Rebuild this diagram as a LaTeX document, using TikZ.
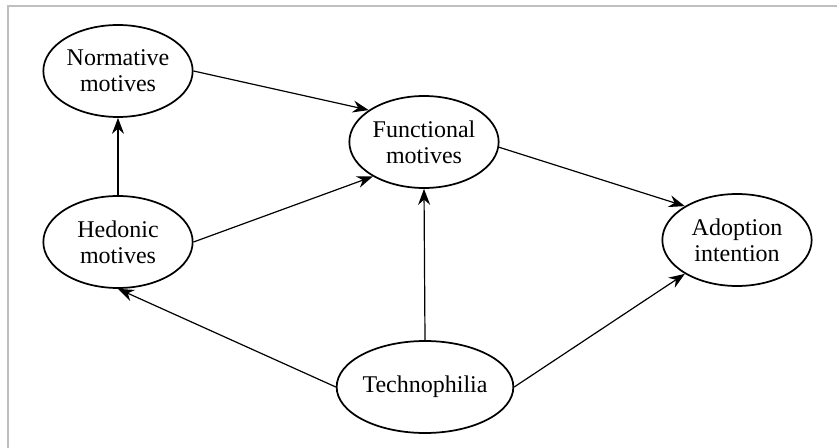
\documentclass[tikz,border=0pt]{standalone}
\usepackage{fontspec}
\setmainfont{Liberation Serif}
\usetikzlibrary{shapes,arrows,arrows.meta,positioning}

\begin{document}
\begin{tikzpicture}[x=0.75pt,y=-0.75pt]
				\tikzstyle{Motive}	= [draw, ellipse, line width=1.3pt, fill=white, minimum width=112pt, minimum height=69pt, inner sep=0pt, align=center, font=\fontsize{18}{19.5}\selectfont]
				\tikzstyle{Link}	= [-{Stealth[length=12pt, width=9pt, inset=4pt]}, line width=0.9pt]
				\tikzstyle{Frame}	= [draw=black!25, line width=1.5pt]

				\useasboundingbox (0,0) rectangle (837,448);
				\draw [Frame] (8,448) -- (8,6) -- (837,6);

				\node (nor) at (118, 71) [Motive] {Normative\\motives};

				\node (fun) at (424, 142) [Motive] {Functional\\motives};

				\node (hed) at (118, 242) [Motive] {Hedonic\\motives};

				\node (ado) at (737, 240) [Motive] {Adoption\\intention};

				\node (tec) at (425, 387) [Motive] {Technophilia};

				\draw [Link] (nor.east) to (fun.150);
				\draw [Link] (hed.north) to (nor.south);
				\draw [Link] (hed.east) to (fun.-146);
				\draw [Link] (fun.-4) to (ado.147);
				\draw [Link] (tec.north) to (fun.south);
				\draw [Link] (tec.west) to (hed.south);
				\draw [Link] (tec.east) to (ado.-147);
			\end{tikzpicture}
\end{document}
